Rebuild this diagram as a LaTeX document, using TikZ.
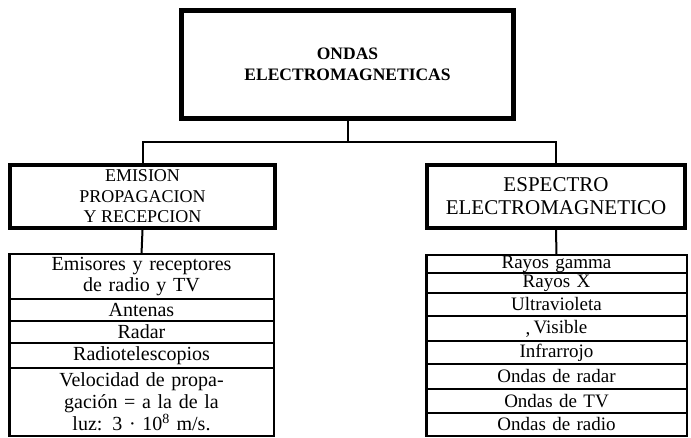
\documentclass[tikz,border=0pt]{standalone}
\usepackage{fontspec}
\setmainfont{Liberation Serif}
\usetikzlibrary{positioning}

\begin{document}
\begin{tikzpicture}[
  x=1pt,
  y=-1pt,
  line join=miter,
  title/.style={draw,line width=5pt,minimum width=332pt,minimum height=108pt,
    align=center,font=\bfseries\fontsize{17.5}{21}\selectfont},
  head/.style={draw,line width=4pt,minimum height=63pt,inner sep=0pt,align=center},
  row/.style={draw,line width=1.4pt,outer sep=0pt,inner sep=0pt,align=center},
  lrow/.style={row,minimum width=264.5pt,text width=264.5pt,
    font=\fontsize{20}{20.5}\selectfont},
  rrow/.style={row,minimum width=260.5pt,text width=260.5pt,
    font=\fontsize{19}{20}\selectfont},
  frame/.style={draw,line width=2.5pt},
  link/.style={draw,line width=2pt}
]
  \useasboundingbox (0,0) rectangle (691,438);

  % Main title and the two branch headers.
  \node[title] (ondas) at (347.5,64.5) {ONDAS\\ELECTROMAGNETICAS};
  \node[head,minimum width=265pt,font=\fontsize{18}{20.5}\selectfont] (emision) at (142.5,196.5)
    {EMISION\\PROPAGACION\\Y RECEPCION};
  \node[head,minimum width=258pt,font=\fontsize{21}{23}\selectfont] (espectro) at (556,196.5)
    {ESPECTRO\\ELECTROMAGNETICO};

  % Left list, rows stacked under one another.
  \node[lrow,anchor=north,minimum height=45pt] (emisores) at (141.5,254) {Emisores y receptores\\de radio y TV};
  \node[lrow,minimum height=22pt,below=0pt of emisores] (antenas) {Antenas};
  \node[lrow,minimum height=22pt,below=0pt of antenas] (radar) {Radar};
  \node[lrow,minimum height=25pt,below=0pt of radar] (radiotel) {Radiotelescopios};
  \node[lrow,minimum height=68pt,below=0pt of radiotel,font=\fontsize{20}{22}\selectfont] (velocidad)
    {Velocidad de propa-\\gación = a la de la\\luz: 3 · 10\textsuperscript{8} m/s.};
  \draw[frame] (emisores.north west) rectangle (velocidad.south east);

  % Right list: the spectrum bands.
  \node[rrow,anchor=north,minimum height=18pt] (gamma) at (556.5,255) {Rayos gamma};
  \node[rrow,minimum height=20pt,below=0pt of gamma] (rayosx) {Rayos X};
  \node[rrow,minimum height=23pt,below=0pt of rayosx] (ultra) {Ultravioleta};
  \node[rrow,minimum height=25pt,below=0pt of ultra] (visible) {\raisebox{-1pt}{,}\,Visible};
  \node[rrow,minimum height=23pt,below=0pt of visible] (infra) {Infrarrojo};
  \node[rrow,minimum height=25pt,below=0pt of infra] (oradar) {Ondas de radar};
  \node[rrow,minimum height=24pt,below=0pt of oradar] (otv) {Ondas de TV};
  \node[rrow,minimum height=23pt,below=0pt of otv] (oradio) {Ondas de radio};
  \draw[frame] (gamma.north west) rectangle (oradio.south east);

  % Tree connectors.
  \draw[link] (ondas.south) -- ++(0,21) coordinate (split);
  \draw[link] (emision.north) |- (split) -| (espectro.north);
  \draw[link] (emision.south) -- (emisores.north);
  \draw[link] (espectro.south) -- (gamma.north);
\end{tikzpicture}
\end{document}
